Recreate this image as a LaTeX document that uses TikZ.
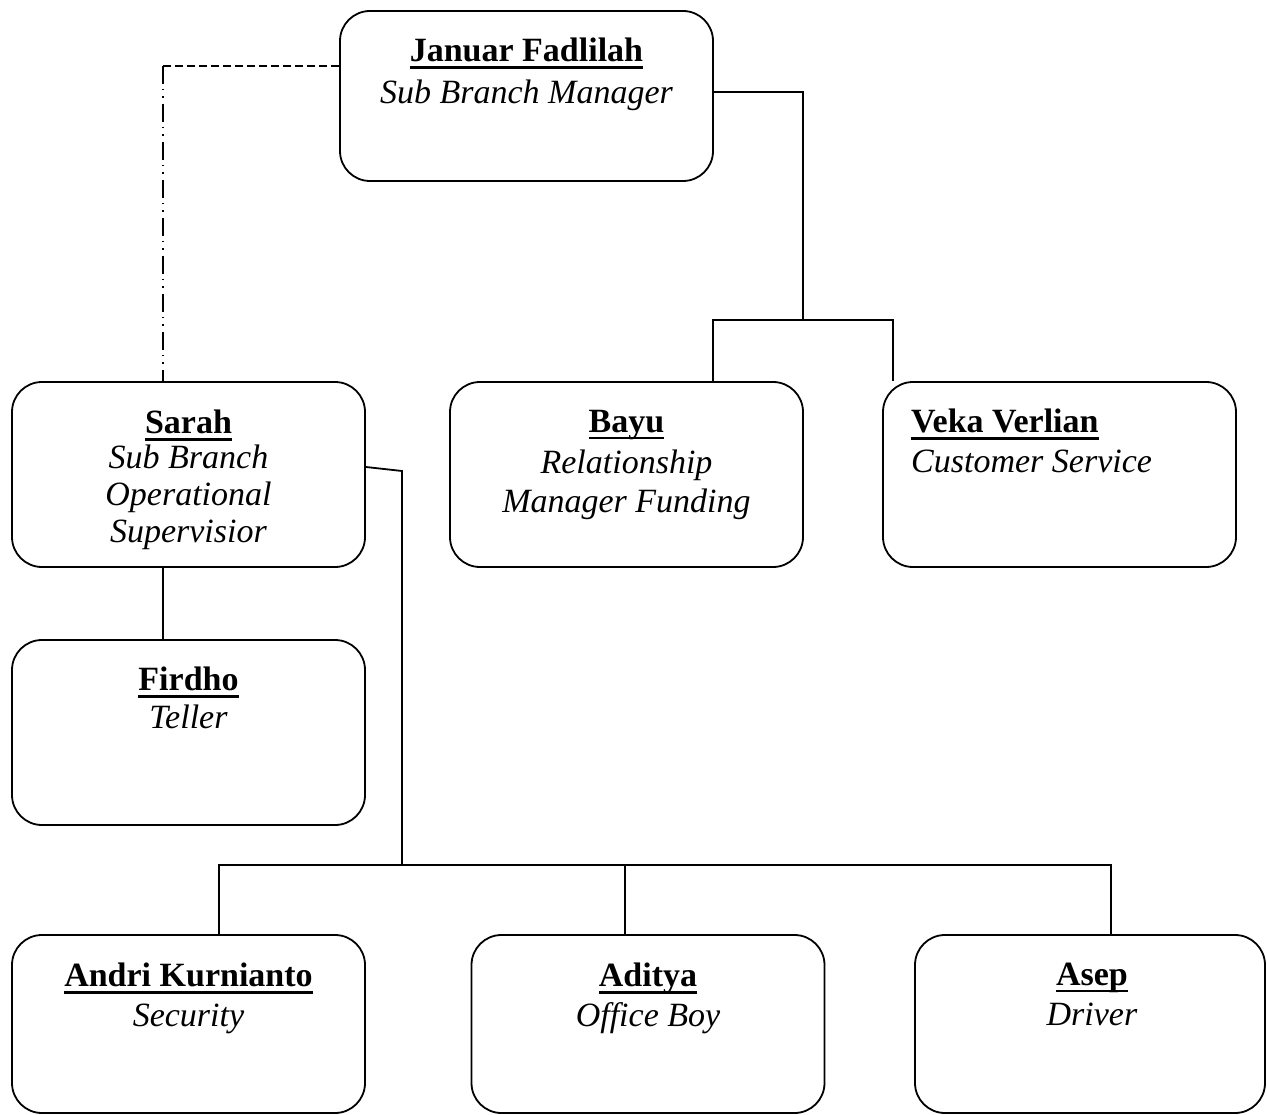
\documentclass[tikz,border=0pt]{standalone}
\usepackage{fontspec}
\setmainfont{Liberation Serif}
\newcommand\uname[1]{\setbox0\hbox{\bfseries #1}\rlap{\rule[-0.2em]{\wd0}{0.075em}}\box0}
\tikzset{
 box/.style={draw, line width=1.8pt, rounded corners=30pt, inner sep=0, minimum width=353, minimum height=185},
 txt/.style={inner sep=0, align=center, font=\fontsize{34}{37}\selectfont, anchor=north},
 conn/.style={line width=1.8pt},
 dashseg/.style={line width=1.5pt, dash pattern=on 8pt off 4pt},
 dashdot/.style={line width=1.5pt, dash pattern=on 18pt off 5pt on 1.5pt off 6pt on 1.5pt off 6pt},
}
\begin{document}
\begin{tikzpicture}[x=1pt,y=-1pt]
\useasboundingbox (0,0) rectangle (1267,1115);
% boxes
\node[box, minimum width=373, minimum height=170] (jan) at (526.5,96) {};
\node[box] (sarah) at (188.5,474.5) {};
\node[box] (bayu) at (626.5,474.5) {};
\node[box] (veka) at (1059.5,474.5) {};
\node[box] (firdho) at (188.5,732.5) {};
\node[box, minimum height=178] (andri) at (188.5,1024) {};
\node[box, minimum height=178] (aditya) at (648,1024) {};
\node[box, minimum width=350, minimum height=178] (asep) at (1090,1024) {};
% texts
\node[txt] (jant) at (526.5,38) {\uname{Januar Fadlilah}\\[5pt]\textit{Sub Branch Manager}};
\node[txt] (saraht) at (188.5,410) {\uname{Sarah}\\[-2pt]\textit{Sub Branch}\\\textit{Operational}\\\textit{Supervisior}};
\node[txt] (bayut) at (626.5,410) {\uname{Bayu}\\[4pt]\textit{Relationship}\\[2pt]\textit{Manager Funding}};
\node[txt, anchor=north west, align=left] (vekat) at (911,409) {\uname{Veka Verlian}\\[3pt]\textit{Customer Service}};
\node[txt] (firdhot) at (188.5,667) {\uname{Firdho}\\[1pt]\textit{Teller}};
\node[txt] (andrit) at (188.5,963) {\uname{Andri Kurnianto}\\[3pt]\textit{Security}};
\node[txt] (adityat) at (648,963) {\uname{Aditya}\\[3pt]\textit{Office Boy}};
\node[txt] (asept) at (1092,963) {\uname{Asep}\\[3pt]\textit{Driver}};
% connectors
\coordinate (jbus) at (803,320);
\draw[conn] (jan.east |- 0,92) -| (jbus);
\draw[conn] (bayu.north -| 713,0) |- (893,320) -- (veka.north -| 893,0);
\coordinate (dcorner) at (163,66);
\draw[dashseg] (jan.west |- dcorner) -- (dcorner);
\draw[dashdot] (dcorner) -- (sarah.north -| dcorner);
\draw[conn] (sarah.south -| 163,0) -- (firdho.north -| 163,0);
\coordinate (sbus) at (402,865);
\draw[conn] (sarah.east |- 0,467) -- (402,471) -- (sbus);
\draw[conn] (andri.north -| 219,0) |- (1111,865) -- (asep.north -| 1111,0);
\draw[conn] (aditya.north -| 625,0) -- (625,865);
\end{tikzpicture}
\end{document}
